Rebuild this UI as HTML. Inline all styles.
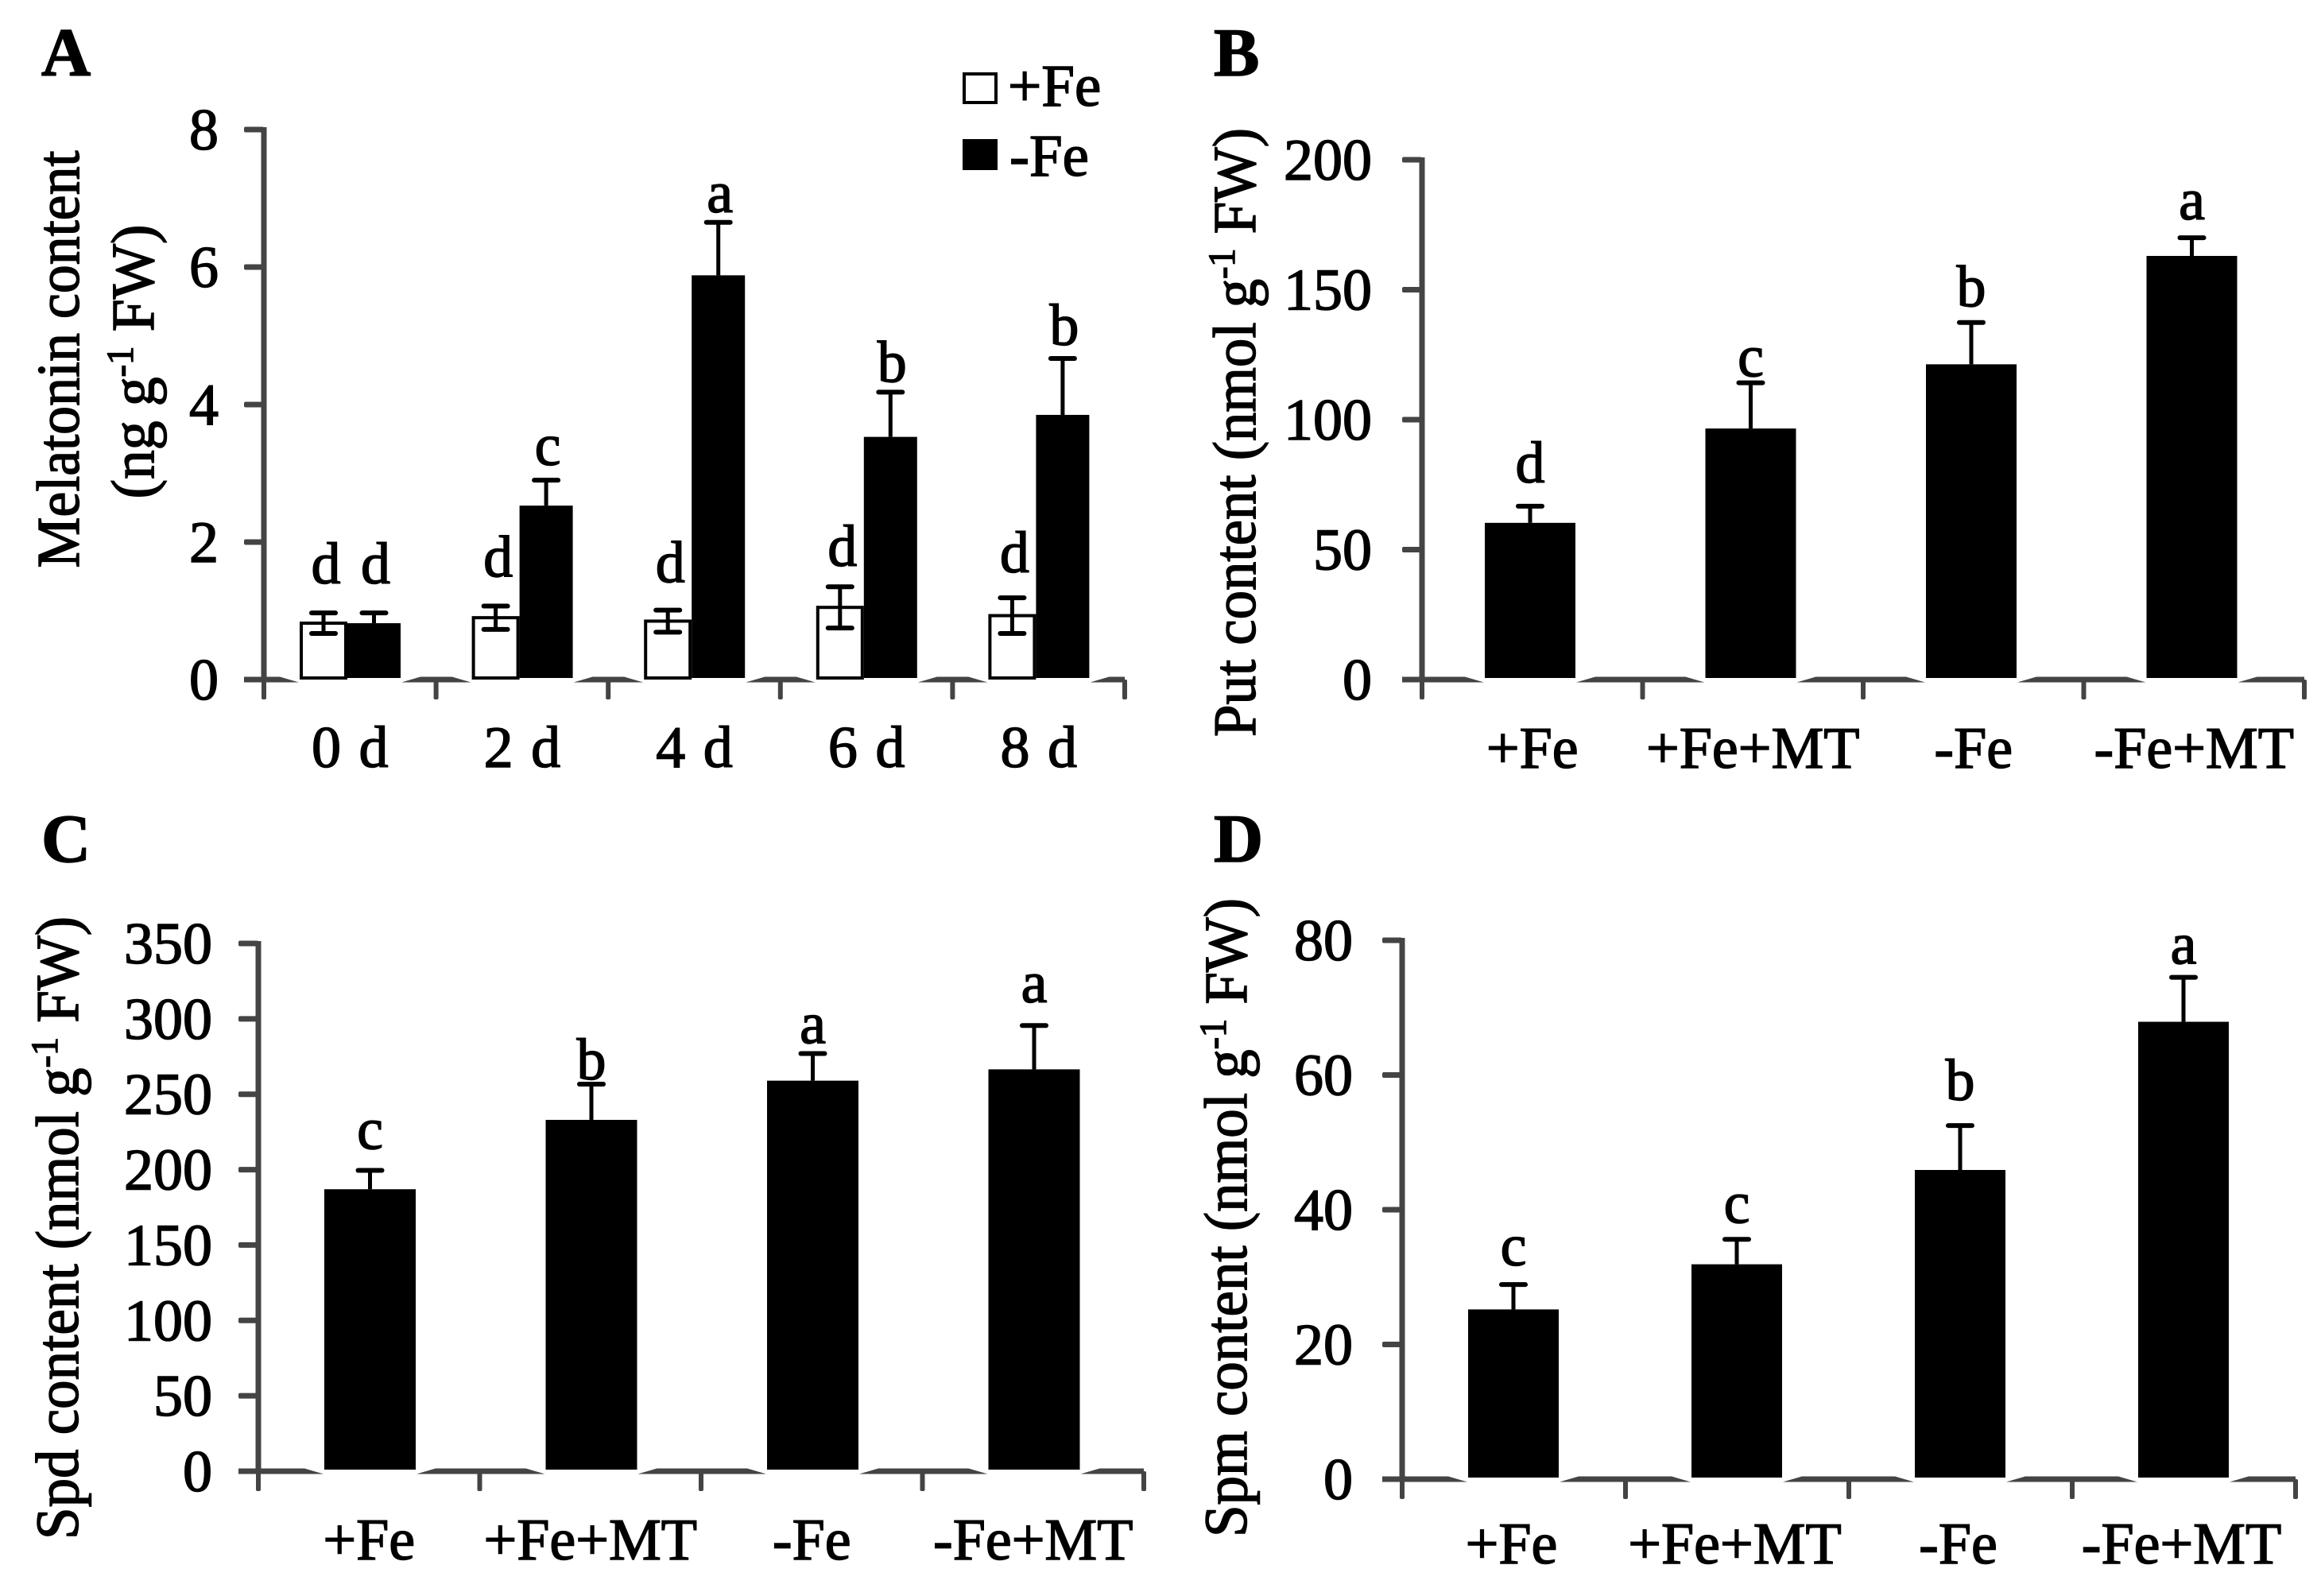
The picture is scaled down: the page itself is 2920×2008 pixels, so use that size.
<!DOCTYPE html>
<html lang="en">
<head>
<meta charset="utf-8">
<title>Melatonin and polyamine content under Fe treatments</title>
<style>
html,body{margin:0;padding:0;background:#fff;width:2920px;height:2008px;overflow:hidden}
svg{display:block}
text{font-family:"Liberation Serif",serif;fill:#000;stroke:#000;stroke-width:1.5px}
</style>
</head>
<body>
<svg id="figure" xmlns="http://www.w3.org/2000/svg" width="2920" height="2008" viewBox="0 0 2920 2008">
  <rect x="0" y="0" width="2920" height="2008" fill="#fff"/>
  <g>
    <rect x="1213" y="93" width="40" height="36" fill="#fff" stroke="#000" stroke-width="4"/>
    <text x="1268" y="133" font-size="75">+Fe</text>
    <rect x="1211" y="175" width="44" height="39" fill="#000"/>
    <text x="1270" y="221" font-size="75">-Fe</text>
  </g>
</svg>
<script>
// Panel A data
const daysA = ['0 d', '2 d', '4 d', '6 d', '8 d'];
const plusFeA = [0.82, 0.90, 0.85, 1.05, 0.93];
const plusFeErrA = [0.15, 0.17, 0.16, 0.30, 0.26];
const plusFeLettersA = ['d', 'd', 'd', 'd', 'd'];
const minusFeA = [0.82, 2.53, 5.88, 3.53, 3.85];
const minusFeErrA = [0.15, 0.37, 0.77, 0.65, 0.82];
const minusFeLettersA = ['d', 'c', 'a', 'b', 'b'];
const ticksA = [0, 2, 4, 6, 8];

// Panels B, C, D share these treatments
const treatments = ['+Fe', '+Fe+MT', '-Fe', '-Fe+MT'];

const valuesB = [60.3, 96.6, 121.3, 163];
const errB = [6.4, 17.6, 16.1, 7];
const lettersB = ['d', 'c', 'b', 'a'];
const ticksB = [0, 50, 100, 150, 200];

const valuesC = [187, 233, 259, 266.5];
const errC = [12.5, 23.7, 18, 29.1];
const lettersC = ['c', 'b', 'a', 'a'];
const ticksC = [0, 50, 100, 150, 200, 250, 300, 350];

const valuesD = [25.2, 31.9, 45.9, 67.9];
const errD = [3.7, 3.7, 6.6, 6.6];
const lettersD = ['c', 'c', 'b', 'a'];
const ticksD = [0, 20, 40, 60, 80];

const svg = document.getElementById('figure');
const NS = 'http://www.w3.org/2000/svg';
const AXIS = '#444';
const TEXT_SIZE = 74;

function rect(parent, x, y, w, h, fill) {
  const r = document.createElementNS(NS, 'rect');
  r.setAttribute('x', x);
  r.setAttribute('y', y);
  r.setAttribute('width', w);
  r.setAttribute('height', h);
  r.setAttribute('fill', fill);
  parent.appendChild(r);
  return r;
}
function label(parent, x, y, str, size, anchor) {
  const t = document.createElementNS(NS, 'text');
  t.setAttribute('x', x);
  t.setAttribute('y', y);
  t.setAttribute('font-size', size);
  t.setAttribute('text-anchor', anchor || 'middle');
  t.textContent = str;
  parent.appendChild(t);
  return t;
}
function group(name) {
  const g = document.createElementNS(NS, 'g');
  
  
  svg.appendChild(g);
  return g;
}

function drawAxes(p) {
  const g = group(p.id + '-axes');
  const top = p.yScale(p.ticks[p.ticks.length - 1]);
  const y0 = p.yScale(0);
  const n = p.cats.length;
  const xEnd = p.x0 + p.step * n;

  const yLine = rect(g, p.x0 - 3.5, top - 3, 7, y0 - top + 3, AXIS);
  
  

  // The baseline only shows between bars and tapers into each bar edge.
  for (let i = 0; i <= n; i++) {
    const left = i === 0 ? p.x0 - 25 : p.barEnd(i - 1) + 1;
    const right = i === n ? xEnd : p.barStart(i) - 1;
    const lt = i === 0 ? 0 : 24;
    const rt = i === n ? 0 : 24;
    const seg = document.createElementNS(NS, 'polygon');
    seg.setAttribute('points',
      left + ',' + (y0 + 3.5) + ' ' +
      (left + lt) + ',' + (y0 - 3.5) + ' ' +
      (right - rt) + ',' + (y0 - 3.5) + ' ' +
      right + ',' + (y0 + 3.5));
    seg.setAttribute('fill', AXIS);
    
    
    g.appendChild(seg);
  }

  p.ticks.forEach(function (v) {
    const m = rect(g, p.x0 - 25, p.yScale(v) - 3.5, 25, 7, AXIS);
    m.setAttribute('rx', 2);
    
    
    const t = label(g, p.x0 - p.tickGap, p.yScale(v) + 25, String(v), TEXT_SIZE, 'end');
    
    
  });
  for (let i = 0; i <= n; i++) {
    const m = rect(g, p.x0 + p.step * i - 3, y0, 6, 25, AXIS);
    m.setAttribute('rx', 2);
    
    
  }
  p.cats.forEach(function (c, i) {
    const t = label(g, p.x0 + p.step * (i + 0.5) + (p.catShift || 0), p.catY, c, TEXT_SIZE);
    
    
    t.setAttribute('word-spacing', p.wordSpacing || 0);
  });
}

function drawErr(g, p, cx, vTop, vBottom, capW, name) {
  const yT = p.yScale(vTop);
  const yB = p.yScale(vBottom);
  const s = rect(g, cx - 2.5, yT, 5, yB - yT, '#000');
  
  
  const c = rect(g, cx - capW / 2, yT - 3, capW, 6, '#000');
  c.setAttribute('rx', 3);
  
  
}

function drawBar(g, p, x, w, v, fill, name) {
  const y = p.yScale(v);
  const b = rect(g, x, y, w, p.yScale(0) - y - 2, fill);
  
  
  return b;
}

function drawSingle(p) {
  const g = group(p.id + '-bars');
  p.values.forEach(function (v, i) {
    const x = p.barStart(i);
    const cx = x + p.barW / 2;
    const name = p.id + '-bar-' + (i + 1);
    drawBar(g, p, x, p.barW, v, '#000', name);
    drawErr(g, p, cx, v + p.err[i], v, 36, name);
    const t = label(g, cx, p.yScale(v + p.err[i]) - p.lift[i], p.letters[i], TEXT_SIZE);
    
    
  });
}

function yTitle(x, cy, len, before, after, name) {
  const t = document.createElementNS(NS, 'text');
  t.setAttribute('transform', 'translate(' + x + ',' + cy + ') rotate(-90)');
  t.setAttribute('text-anchor', 'middle');
  t.setAttribute('font-size', 76);
  t.setAttribute('textLength', len);
  t.setAttribute('lengthAdjust', 'spacingAndGlyphs');
  
  
  if (after === null) {
    t.textContent = before;
  } else {
    const a = document.createElementNS(NS, 'tspan');
    a.textContent = before;
    const sup = document.createElementNS(NS, 'tspan');
    sup.setAttribute('font-size', 48);
    sup.setAttribute('dy', -26);
    sup.textContent = '-1';
    const b = document.createElementNS(NS, 'tspan');
    b.setAttribute('dy', 26);
    b.textContent = ' ' + after;
    t.appendChild(a);
    t.appendChild(sup);
    t.appendChild(b);
  }
  svg.appendChild(t);
}

function panelLetter(x, y, str, name) {
  const t = label(svg, x, y, str, 86, 'start');
  t.setAttribute('font-weight', 'bold');
  
  
}

function linear(y0, yTop, max) {
  return function (v) { return y0 - (y0 - yTop) * v / max; };
}

function singlePanel(cfg) {
  cfg.barStart = function (i) { return cfg.x0 + cfg.step * i + cfg.barOffset; };
  cfg.barEnd = function (i) { return cfg.barStart(i) + cfg.barW; };
  drawAxes(cfg);
  drawSingle(cfg);
}

// Panel A
const panelA = {
  id: 'panel-a', cats: daysA, ticks: ticksA, x0: 332, step: 216.6,
  yScale: linear(855, 163, 8), tickGap: 57, catY: 965, wordSpacing: 4,
  barStart: function (i) { return 332 + 216.6 * i + 45; },
  barEnd: function (i) { return 332 + 216.6 * i + 45 + 127; }
};
drawAxes(panelA);
const barsA = group('panel-a-bars');
const whiteLift = [37, 37, 35, 26, 32];
const blackLift = [37, 19, 13, 13, 17];
daysA.forEach(function (d, i) {
  const start = panelA.barStart(i);
  const whiteW = 60;
  const blackW = 67;
  const wName = 'bar-plus-fe-' + d.replace(' ', '');
  const kName = 'bar-minus-fe-' + d.replace(' ', '');

  const w = drawBar(barsA, panelA, start + 2, whiteW - 4, plusFeA[i], '#fff', wName);
  w.setAttribute('stroke', '#000');
  w.setAttribute('stroke-width', 4);
  drawBar(barsA, panelA, start + whiteW, blackW, minusFeA[i], '#000', kName);

  const wc = start + whiteW / 2;
  const kc = start + whiteW + blackW / 2;
  drawErr(barsA, panelA, wc, plusFeA[i] + plusFeErrA[i], plusFeA[i] - plusFeErrA[i], 36, wName);
  const lowCap = rect(barsA, wc - 18, panelA.yScale(plusFeA[i] - plusFeErrA[i]) - 3, 36, 6, '#000');
  lowCap.setAttribute('rx', 3);
  
  
  drawErr(barsA, panelA, kc, minusFeA[i] + minusFeErrA[i], minusFeA[i], 36, kName);

  const lw = label(barsA, wc + 3, panelA.yScale(plusFeA[i] + plusFeErrA[i]) - whiteLift[i], plusFeLettersA[i], TEXT_SIZE);
  
  
  const lk = label(barsA, kc + 2, panelA.yScale(minusFeA[i] + minusFeErrA[i]) - blackLift[i], minusFeLettersA[i], TEXT_SIZE);
  
  
});

// Panel B
singlePanel({
  id: 'panel-b', cats: treatments, ticks: ticksB, x0: 1789, step: 277.5,
  yScale: linear(855, 201, 200), tickGap: 63, catY: 966,
  values: valuesB, err: errB, letters: lettersB, barOffset: 79, barW: 114, lift: [30, 8, 20, 23]
});

// Panel C
singlePanel({
  id: 'panel-c', cats: treatments, ticks: ticksC, x0: 325, step: 278.5,
  yScale: linear(1851, 1187, 350), tickGap: 58, catY: 1962,
  values: valuesC, err: errC, letters: lettersC, barOffset: 83, barW: 115, lift: [27, 6, 13, 29]
});

// Panel D
singlePanel({
  id: 'panel-d', cats: treatments, ticks: ticksD, x0: 1764, step: 281,
  yScale: linear(1861, 1183, 80), tickGap: 62, catY: 1967, catShift: -3,
  values: valuesD, err: errD, letters: lettersD, barOffset: 83, barW: 114, lift: [24, 21, 32, 17]
});

// Titles
yTitle(99, 452, 525, 'Melatonin content', null, 'panel-a-y-axis-title-line-1');
yTitle(193, 455, 345, '(ng g', 'FW)', 'panel-a-y-axis-title-line-2');
yTitle(1579, 544, 766, 'Put content (nmol g', 'FW)', 'panel-b-y-axis-title');
yTitle(98, 1545, 784, 'Spd content (nmol g', 'FW)', 'panel-c-y-axis-title');
yTitle(1568, 1532, 804, 'Spm content (nmol g', 'FW)', 'panel-d-y-axis-title');

panelLetter(52, 95, 'A', 'panel-a-label');
panelLetter(1527, 95, 'B', 'panel-b-label');
panelLetter(52, 1084, 'C', 'panel-c-label');
panelLetter(1527, 1084, 'D', 'panel-d-label');
</script>
</body>
</html>
